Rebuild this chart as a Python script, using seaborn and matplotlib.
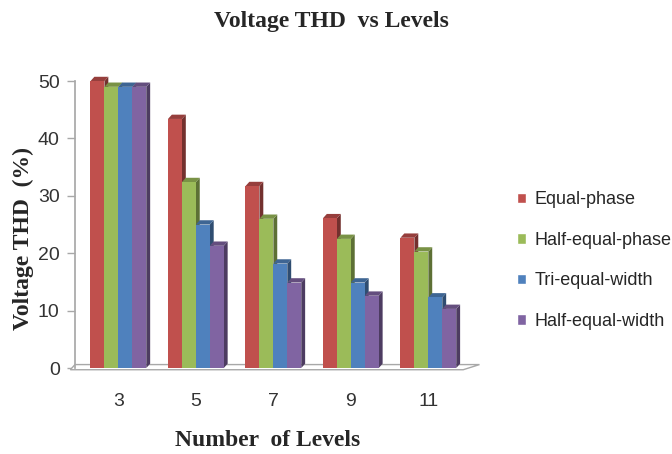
import matplotlib
matplotlib.use("Agg")
import matplotlib.pyplot as plt
import seaborn as sns
import pandas as pd
from matplotlib.patches import Patch, Polygon
from matplotlib.colors import to_rgb

levels = ["3", "5", "7", "9", "11"]
series = ["Equal-phase", "Half-equal-phase", "Tri-equal-width", "Half-equal-width"]
equal_phase = [50.0, 43.4, 31.7, 26.1, 22.7]
half_equal_phase = [49.0, 32.4, 26.0, 22.5, 20.3]
tri_equal_width = [49.0, 25.0, 18.2, 14.9, 12.3]
half_equal_width = [49.0, 21.3, 14.9, 12.6, 10.3]
colors = ["#C0504D", "#9BBB59", "#4F81BD", "#8064A2"]

rows = []
for s, vals in zip(series, [equal_phase, half_equal_phase, tri_equal_width, half_equal_width]):
    for lv, v in zip(levels, vals):
        rows.append({"Levels": lv, "THD": v, "Method": s})
df = pd.DataFrame(rows)

sns.set_theme(style="white")
fig = plt.figure(figsize=(6.72, 4.54), dpi=100)
ax = fig.add_axes([0.1116, 0.1894, 0.595, 0.632])

sns.barplot(data=df, x="Levels", y="THD", hue="Method", order=levels,
            hue_order=series, palette=colors, width=0.72, ax=ax,
            saturation=1, edgecolor="none", legend=False)

# pseudo-3D side/top faces derived from the bars seaborn drew
def shade(c, f):
    r, g, b = to_rgb(c)
    return (r * f, g * f, b * f)

dx, dy = 0.05, 0.75
n = len(levels)
for k, p in enumerate(list(ax.patches)):
    j = k // n
    col = colors[j]
    p.set_zorder(3 + j)
    p.set_clip_on(False)
    x0, w, h = p.get_x(), p.get_width(), p.get_height()
    side = Polygon([(x0 + w, 0), (x0 + w + dx, dy), (x0 + w + dx, h + dy), (x0 + w, h)],
                   closed=True, facecolor=shade(col, 0.6), edgecolor="none",
                   zorder=2.9 + j, clip_on=False)
    top = Polygon([(x0, h), (x0 + dx, h + dy), (x0 + w + dx, h + dy), (x0 + w, h)],
                  closed=True, facecolor=shade(col, 0.78), edgecolor="none",
                  zorder=2.9 + j, clip_on=False)
    ax.add_patch(side)
    ax.add_patch(top)

ax.set_ylim(0, 50)
ax.set_yticks([0, 10, 20, 30, 40, 50])
ax.set_xlim(-0.56, 4.6)

# floor
floor = Polygon([(-0.62, -0.3), (4.45, -0.3), (4.66, 0.6), (-0.56, 0.6)], closed=True,
                facecolor="white", edgecolor="#A8A8A8", linewidth=1.0, zorder=1,
                clip_on=False)
ax.add_patch(floor)

for sp in ["top", "right", "bottom"]:
    ax.spines[sp].set_visible(False)
ax.spines["left"].set_color("#A8A8A8")
ax.spines["left"].set_zorder(1)
ax.tick_params(axis="y", which="both", left=True, length=6, width=1, color="#A8A8A8",
               labelsize=14, pad=5)
ax.tick_params(axis="x", bottom=False, labelsize=14, pad=12)
for lab in ax.get_xticklabels() + ax.get_yticklabels():
    lab.set_fontfamily("Liberation Sans")
    lab.set_color("#333333")

ax.set_xlabel("")
ax.set_ylabel("")
fig.text(268 / 672, 1 - 441 / 454, "Number  of Levels", ha="center", va="center",
         fontfamily="Liberation Serif", fontweight="bold", fontsize=17)
fig.text(23 / 672, 1 - 239 / 454, "Voltage THD  (%)", ha="center", va="center",
         rotation=90, fontfamily="Liberation Serif", fontweight="bold", fontsize=17)
fig.text(331 / 672, 1 - 21 / 454, "Voltage THD  vs Levels", ha="center", va="center",
         fontfamily="Liberation Serif", fontweight="bold", fontsize=17)

handles = [Patch(facecolor=c, label=s) for c, s in zip(colors, series)]
leg = fig.legend(handles=handles, loc="center left", bbox_to_anchor=(0.745, 0.426),
                 frameon=False, handlelength=0.5, handleheight=0.5, handletextpad=0.5,
                 labelspacing=1.3, prop={"family": "Liberation Sans", "size": 13})

fig.savefig("out.png", dpi=100)
